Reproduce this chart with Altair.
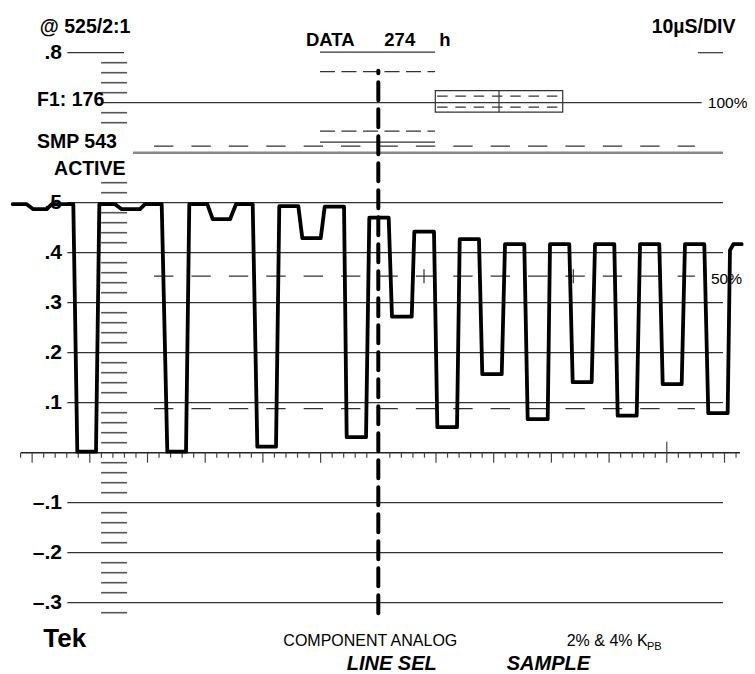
import altair as alt
import pandas as pd

# ---------------- data (time in microseconds, 10 µs / div; amplitude in volts) -------------
WAVE_T = [-63.36, -60.94, -59.79, -57.47, -56.60, -52.86, -52.17, -48.93, -48.35, -45.63,
          -44.47, -41.30, -40.43, -37.54, -36.57, -33.33, -32.76, -29.64, -28.70, -25.70,
          -24.66, -21.77, -20.97, -17.73, -17.16, -13.86, -13.17, -9.98, -9.29, -5.94,
          -5.48, -2.13, -1.56, 1.80, 2.37, 5.79, 6.24, 9.65, 10.23, 13.64,
          14.11, 17.45, 18.02, 21.39, 21.96, 25.30, 25.89, 29.36, 29.76, 33.10,
          33.69, 36.98, 37.56, 40.90, 41.49, 44.78, 45.36, 48.70, 49.29, 52.58,
          53.15, 56.50, 57.19, 60.55, 60.95, 61.53, 62.98]
WAVE_V = [0.497, 0.497, 0.487, 0.487, 0.497, 0.497, 0.002, 0.002, 0.497, 0.497,
          0.487, 0.487, 0.497, 0.497, 0.002, 0.002, 0.497, 0.497, 0.467, 0.467,
          0.497, 0.497, 0.012, 0.012, 0.493, 0.493, 0.429, 0.429, 0.492, 0.492,
          0.031, 0.031, 0.470, 0.470, 0.272, 0.272, 0.442, 0.442, 0.051, 0.051,
          0.427, 0.427, 0.157, 0.157, 0.417, 0.417, 0.067, 0.067, 0.417, 0.417,
          0.141, 0.141, 0.417, 0.417, 0.074, 0.074, 0.417, 0.417, 0.137, 0.137,
          0.417, 0.417, 0.079, 0.079, 0.405, 0.417, 0.417]

GRID_V = [0.5, 0.4, 0.3, 0.2, 0.1, -0.1, -0.2, -0.3]
GRID_T = (-53.9, 59.74)
# other solid graticule segments: (t1, t2, v)
SOLID_SEGS = [(-53.9, -44.07, 0.8), (55.41, 59.74, 0.8), (-47.71, 56.05, 0.7),
              (-10.11, 9.82, 0.801), (-10.11, 9.82, 0.621)]
AXIS_SEG = (-61.93, 62.68, 0.0)
GRAY_SEG = (-42.51, 59.74, 0.6)
LONG_DASH_V = [0.613, 0.353, 0.088]
LONG_DASH_T = (-38.87, 54.87)
SHORT_DASH_V = [0.762, 0.643]
SHORT_DASH_T = (-10.11, 9.82)
BOX_T = (9.88, 31.96)
BOX_V = (0.681, 0.724)
BOX_MID_T = 20.92
BOX_DASH_V = [0.713, 0.691]
CROSS_T = [7.92, 33.8]
LADDER_T = (-48.04, -43.54)
LADDER_V = [round(k * 0.02, 2) for k in range(-16, 40)
            if k % 5 != 0 and k not in (28, 29, 31, 32)]
MINOR_TICKS = [2 * k for k in range(-31, 32) if k % 5 != 0]
MAJOR_TICKS = [10 * k for k in range(-6, 7) if k != 0]
UP_TICKS = [50]
MARKER_T = 0.0
MARKER_V = (-0.321, 0.764)

BOLD_LEFT = [("@ 525/2:1", -58.67, 0.839), ("F1: 176", -59.15, 0.693),
             ("SMP 543", -59.15, 0.609), ("ACTIVE", -56.2, 0.555),
             ("10µS/DIV", 47.38, 0.839)]
DATA_LABELS = [("DATA", -12.53, 0.813), ("274", 1.04, 0.813), ("h", 10.57, 0.813)]
SCALE_LABELS = [".8", ".5", ".4", ".3", ".2", ".1", "–.1", "–.2", "–.3"]
SCALE_VALUES = [0.8, 0.5, 0.4, 0.3, 0.2, 0.1, -0.1, -0.2, -0.3]
SCALE_LABEL_T = -54.82
PCT_LABELS = [("100%", 57.1, 0.689), ("50%", 57.66, 0.337)]
SMALL_LABELS = [("COMPONENT ANALOG", -16.46, -0.386), ("2% & 4% K", 32.65, -0.386)]
SUB_LABELS = [("PB", 46.57, -0.3946)]
TEK_LABEL = [("Tek", -58.06, -0.388)]
ITALIC_LABELS = [("LINE SEL", -5.48, -0.4336), ("SAMPLE", 22.25, -0.4336)]

# ---------------- scales ----------------
XS = alt.Scale(domain=[-64.18, 63.90], nice=False, zero=False)
YS = alt.Scale(domain=[-0.4426, 0.8894], nice=False, zero=False)
SANS = "Liberation Sans, Arial, Helvetica, sans-serif"


def X(f):
    return alt.X(f, type="quantitative", scale=XS, axis=None)


def Y(f):
    return alt.Y(f, type="quantitative", scale=YS, axis=None)


def seg_df(segs):
    return pd.DataFrame([{"t1": a, "t2": b, "v1": v, "v2": v} for a, b, v in segs])


def vseg_df(ts, v1, v2):
    return pd.DataFrame([{"t1": t, "t2": t, "v1": v1, "v2": v2} for t in ts])


def rules(df, **kw):
    return alt.Chart(df).mark_rule(**kw).encode(x=X("t1"), x2="t2", y=Y("v1"), y2="v2")


def texts(items, **kw):
    df = pd.DataFrame(items, columns=["label", "t", "v"])
    return alt.Chart(df).mark_text(baseline="alphabetic", color="black", font=SANS, **kw).encode(
        x=X("t"), y=Y("v"), text="label:N")


layers = []
# graticule
layers.append(rules(seg_df([(GRID_T[0], GRID_T[1], v) for v in GRID_V] + SOLID_SEGS),
                    color="#333", strokeWidth=1.2))
layers.append(rules(seg_df([GRAY_SEG]), color="#888", strokeWidth=2.4))
layers.append(rules(seg_df([(LADDER_T[0], LADDER_T[1], v) for v in LADDER_V]),
                    color="#555", strokeWidth=1.6))
layers.append(rules(seg_df([(LONG_DASH_T[0], LONG_DASH_T[1], v) for v in LONG_DASH_V]),
                    color="#333", strokeWidth=1.2, strokeDash=[19.4, 18]))
layers.append(rules(seg_df([(SHORT_DASH_T[0], SHORT_DASH_T[1], v) for v in SHORT_DASH_V]),
                    color="#333", strokeWidth=1.2, strokeDash=[15, 6.5]))
layers.append(rules(seg_df([(BOX_T[0] + 0.3, BOX_T[1] - 0.2, v) for v in BOX_DASH_V]),
                    color="#333", strokeWidth=1.2, strokeDash=[10.5, 7.8]))
box_df = pd.DataFrame([{"t1": BOX_T[0], "t2": BOX_T[1], "v1": BOX_V[0], "v2": BOX_V[1]}])
layers.append(alt.Chart(box_df).mark_rect(fillOpacity=0, stroke="#333", strokeWidth=1.2)
              .encode(x=X("t1"), x2="t2", y=Y("v1"), y2="v2"))
layers.append(rules(vseg_df([BOX_MID_T], BOX_V[0], BOX_V[1]), color="#333", strokeWidth=1.2))
layers.append(rules(vseg_df(CROSS_T, 0.339, 0.367), color="#333", strokeWidth=1.2))
# horizontal axis with ticks
layers.append(rules(seg_df([AXIS_SEG]), color="#222", strokeWidth=1.5))
layers.append(rules(vseg_df(MINOR_TICKS, -0.01, 0.0), color="#444", strokeWidth=1.2))
layers.append(rules(vseg_df(MAJOR_TICKS, -0.02, 0.0), color="#444", strokeWidth=1.2))
layers.append(rules(vseg_df(UP_TICKS, 0.0, 0.022), color="#444", strokeWidth=1.2))
# waveform
wave_df = pd.DataFrame({"t": WAVE_T, "v": WAVE_V, "i": range(len(WAVE_T))})
layers.append(alt.Chart(wave_df).mark_line(color="black", strokeWidth=3.8,
                                           strokeJoin="round", strokeCap="round")
              .encode(x=X("t"), y=Y("v"), order="i:Q"))
# line-select marker
layers.append(rules(vseg_df([MARKER_T], MARKER_V[0], MARKER_V[1]), color="black",
                    strokeWidth=4, strokeDash=[18, 9], strokeCap="round"))
# text
layers.append(texts(BOLD_LEFT, align="left", fontSize=19.5, fontWeight="bold"))
layers.append(texts(DATA_LABELS, align="left", fontSize=18.5, fontWeight="bold"))
layers.append(texts([(l, SCALE_LABEL_T, v - 0.0135) for l, v in zip(SCALE_LABELS, SCALE_VALUES)],
                    align="right", fontSize=21, fontWeight="bold"))
layers.append(texts(PCT_LABELS, align="left", fontSize=15.5))
layers.append(texts(SMALL_LABELS, align="left", fontSize=16))
layers.append(texts(SUB_LABELS, align="left", fontSize=11))
layers.append(texts(TEK_LABEL, align="left", fontSize=26, fontWeight="bold"))
layers.append(texts(ITALIC_LABELS, align="left", fontSize=20,
                    fontWeight="bold", fontStyle="italic"))

chart = alt.layer(*layers).properties(
    width=739, height=666,
    autosize=alt.AutoSizeParams(type="none"),
    padding=0,
).configure_view(stroke=None)

chart.save("out.html", embed_options={"renderer": "svg", "actions": False})
